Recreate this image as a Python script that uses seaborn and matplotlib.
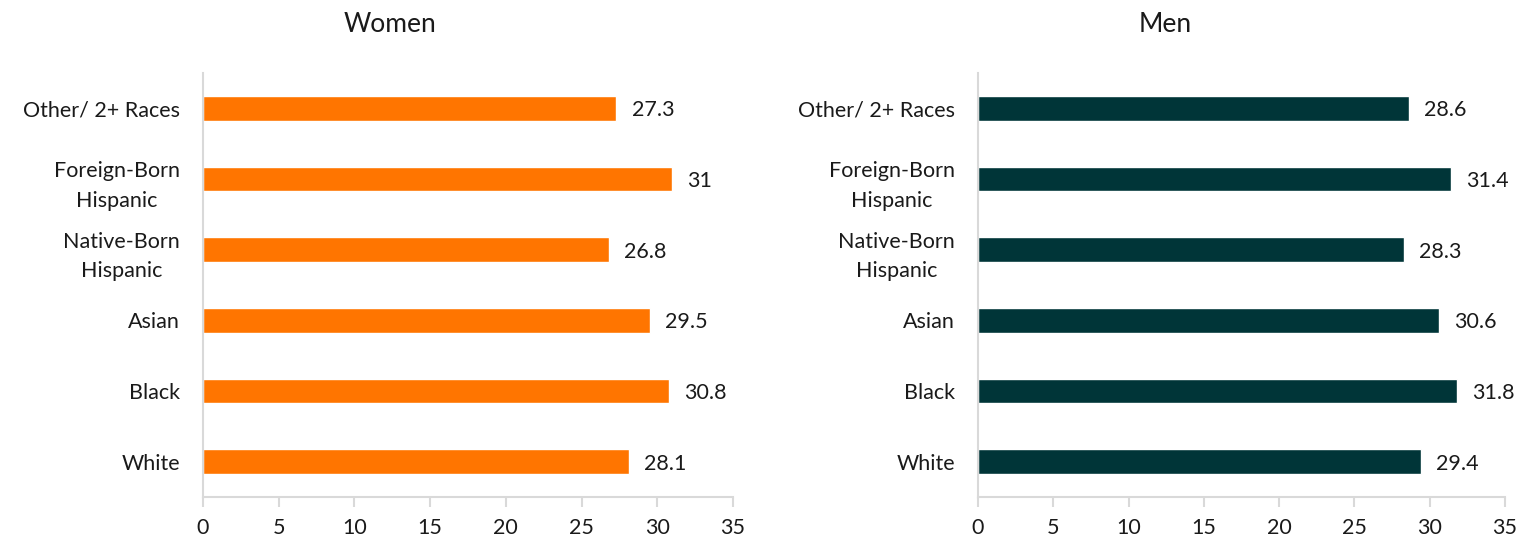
import numpy as np
import pandas as pd
import matplotlib
matplotlib.use("Agg")
import matplotlib.pyplot as plt
import seaborn as sns

groups = ["Other/ 2+ Races", "Foreign-Born\nHispanic", "Native-Born\nHispanic", "Asian", "Black", "White"]
women = [27.3, 31, 26.8, 29.5, 30.8, 28.1]
men = [28.6, 31.4, 28.3, 30.6, 31.8, 29.4]
women_labels = ["27.3", "31", "26.8", "29.5", "30.8", "28.1"]
men_labels = ["28.6", "31.4", "28.3", "30.6", "31.8", "29.4"]
xticks = [0, 5, 10, 15, 20, 25, 30, 35]

sns.set_style("white")
plt.rcParams['font.family'] = ['Lato', 'DejaVu Sans']

fig = plt.figure(figsize=(15.35, 5.4), dpi=100)
axL = fig.add_axes([203/1535, 43/540, 530/1535, 424/540])
axR = fig.add_axes([978/1535, 43/540, 527/1535, 424/540])

grey = "#D9D9D9"
fs = 15.5
panels = [(axL, women, women_labels, "#FF7500", "Women", 390), (axR, men, men_labels, "#003538", "Men", 1165)]
for ax, vals, labs, col, title, tx in panels:
	df = pd.DataFrame({'group': groups, 'value': vals})
	sns.barplot(data=df, y='group', x='value', order=groups, color=col, ax=ax, width=0.35, saturation=1, orient='h')
	for i, (v, l) in enumerate(zip(vals, labs)):
		ax.text(v + 1.0, i, l, va='center_baseline', ha='left', fontsize=fs, color='#1a1a1a')
	ax.set(xlim=(0, 35), ylim=(5.5, -0.5), xticks=xticks, xlabel="", ylabel="")
	for s in ['top', 'right']:
		ax.spines[s].set_visible(False)
	ax.spines['left'].set_color(grey)
	ax.spines['bottom'].set_color(grey)
	ax.spines['left'].set_linewidth(1.5)
	ax.spines['bottom'].set_linewidth(1.5)
	ax.tick_params(axis='x', which='both', bottom=True, length=7, width=1.5, color=grey, labelsize=fs, labelcolor='#1a1a1a', pad=8)
	ax.tick_params(axis='y', left=False, labelsize=fs, labelcolor='#1a1a1a', pad=13)
	for t in ax.get_yticklabels():
		t.set_horizontalalignment('right')
		t.set_multialignment('center')
		t.set_linespacing(1.6)
	fig.text(tx/1535, 1 - 24/540, title, ha='center', va='center', fontsize=19, color='#1a1a1a')

fig.savefig("out.png", dpi=100)
